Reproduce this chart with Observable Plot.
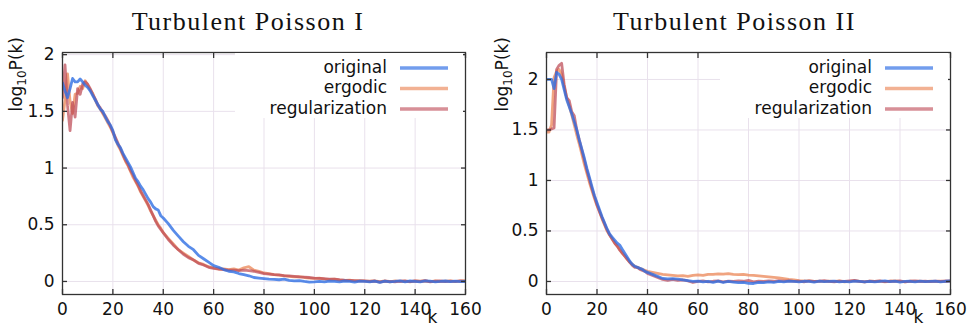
<!DOCTYPE html>
<html><head><meta charset="utf-8">
<script src="https://cdn.jsdelivr.net/npm/d3@7"></script>
<script src="https://cdn.jsdelivr.net/npm/@observablehq/plot@0.6"></script>
<style>
body{margin:0;background:#fff;}
#wrap{position:relative;width:973px;height:325px;overflow:hidden;background:#fff;}
.panel{position:absolute;top:0;height:325px;}
.title{position:absolute;top:9px;left:0;width:100%;box-sizing:border-box;padding-left:10px;text-align:center;font-family:"Liberation Serif",serif;font-size:26px;line-height:25px;letter-spacing:1.5px;color:#111;white-space:nowrap;}
</style></head><body><div id="wrap"></div><script>
const titles = ["Turbulent Poisson I", "Turbulent Poisson II"];
const seriesNames = ["original", "ergodic", "regularization"];
const xTicks = [0, 20, 40, 60, 80, 100, 120, 140, 160];
const yTicks = [0, 0.5, 1, 1.5, 2];
const K = [0,1,2,3,4,5,6,7,8,9,10,11,12,13,14,15,16,17,18,19,20,21,22,23,24,25,26,27,28,29,30,31,32,33,34,35,36,37,38,39,40,
  42,44,46,48,50,52,54,56,58,60,62,64,66,68,70,72,74,76,78,80,82,84,86,88,90,92,94,96,98,100,
  102,104,106,108,110,112,114,116,118,120,122,124,126,128,130,132,134,136,138,140,142,144,146,148,150,152,154,156,158,160];

const leftOriginal = [1.75,1.68,1.62,1.70,1.79,1.76,1.76,1.785,1.76,1.73,1.71,1.68,1.64,1.60,1.56,1.52,1.50,1.45,1.41,1.38,1.33,1.25,1.21,1.18,1.13,1.09,1.05,1.01,0.96,0.91,0.88,0.84,0.81,0.77,0.73,0.70,0.66,0.64,0.63,0.58,0.56,
  0.51,0.45,0.40,0.35,0.31,0.28,0.23,0.20,0.17,0.14,0.125,0.105,0.09,0.085,0.07,0.06,0.05,0.035,0.03,0.025,0.02,0.018,0.015,0.02,0.01,0.005,0.008,0.0,-0.005,-0.003,
  0.0,-0.004,0.002,0.0,-0.003,0.004,0.0,-0.006,0.002,0.0,-0.004,0.003,-0.008,0.002,-0.004,0.0,0.005,-0.003,0.004,0.0,-0.004,0.006,0.002,-0.003,0.0,0.004,-0.002,0.003,-0.002,0.0];
const leftErgodic = [1.42,1.60,1.83,1.59,1.48,1.65,1.66,1.72,1.70,1.77,1.73,1.69,1.66,1.60,1.55,1.52,1.48,1.44,1.40,1.36,1.31,1.26,1.20,1.16,1.11,1.06,1.02,0.97,0.92,0.88,0.84,0.79,0.75,0.71,0.67,0.62,0.58,0.54,0.50,0.47,0.43,
  0.38,0.33,0.28,0.25,0.22,0.19,0.165,0.15,0.13,0.12,0.11,0.11,0.105,0.11,0.10,0.12,0.13,0.10,0.09,0.075,0.07,0.06,0.055,0.05,0.045,0.04,0.042,0.035,0.03,0.028,
  0.03,0.02,0.018,0.02,0.012,0.01,0.012,0.006,0.008,0.004,0.002,0.006,-0.002,0.004,-0.003,0.005,0.0,0.003,-0.004,0.006,0.002,0.004,-0.002,0.005,0.0,0.003,0.006,-0.002,0.004,0.005];
const leftRegularization = [1.62,1.91,1.55,1.33,1.58,1.45,1.70,1.65,1.74,1.76,1.74,1.70,1.65,1.61,1.56,1.53,1.49,1.46,1.42,1.37,1.32,1.27,1.22,1.17,1.12,1.07,1.03,0.98,0.94,0.89,0.85,0.80,0.76,0.72,0.68,0.63,0.58,0.53,0.49,0.46,0.43,
  0.37,0.32,0.28,0.24,0.21,0.19,0.16,0.145,0.125,0.115,0.11,0.105,0.10,0.10,0.095,0.10,0.095,0.09,0.08,0.07,0.065,0.06,0.058,0.052,0.05,0.045,0.04,0.038,0.035,0.03,
  0.028,0.025,0.02,0.02,0.015,0.012,0.01,0.008,0.005,0.006,0.0,0.004,-0.005,0.003,0.0,-0.004,0.002,0.005,-0.002,0.004,0.0,0.007,-0.003,0.002,0.004,-0.002,0.003,0.0,0.005,0.002];

const rightOriginal = [2.00,2.00,2.00,1.91,2.07,2.05,2.00,1.90,1.80,1.73,1.66,1.58,1.50,1.40,1.31,1.22,1.12,1.03,0.94,0.85,0.78,0.71,0.64,0.58,0.52,0.47,0.44,0.41,0.38,0.36,0.32,0.28,0.24,0.20,0.17,0.15,0.14,0.13,0.12,0.10,0.09,
  0.07,0.05,0.03,0.025,0.028,0.024,0.015,0.008,0.0,0.003,-0.005,0.002,-0.008,0.003,-0.01,0.0,-0.006,-0.012,-0.008,-0.018,-0.02,-0.01,-0.012,-0.005,-0.008,0.0,-0.004,0.003,0.0,-0.003,
  0.002,0.0,-0.006,0.004,-0.002,0.0,0.003,-0.004,0.002,-0.003,0.004,0.0,-0.005,0.002,-0.004,0.0,0.005,-0.002,0.003,-0.006,0.0,0.002,-0.003,0.004,-0.002,0.0,0.003,-0.004,0.002,0.005];
const rightErgodic = [1.48,1.48,1.55,2.02,2.08,2.10,2.05,1.93,1.82,1.74,1.65,1.55,1.45,1.36,1.26,1.16,1.07,0.98,0.90,0.82,0.75,0.69,0.62,0.56,0.50,0.46,0.42,0.38,0.35,0.32,0.28,0.25,0.22,0.19,0.17,0.15,0.14,0.13,0.12,0.11,0.10,
  0.09,0.08,0.07,0.065,0.06,0.055,0.058,0.05,0.06,0.065,0.06,0.07,0.07,0.075,0.072,0.078,0.07,0.068,0.07,0.062,0.06,0.055,0.05,0.045,0.04,0.035,0.028,0.02,0.015,0.008,
  0.005,0.006,0.0,0.004,-0.002,0.003,0.0,0.005,-0.003,0.002,0.006,0.0,-0.003,0.004,0.0,0.003,-0.004,0.002,0.005,0.0,-0.003,0.004,0.0,0.003,-0.002,0.004,0.0,0.003,-0.002,0.006];
const rightRegularization = [1.50,1.50,1.51,1.52,2.10,2.14,2.16,1.95,1.82,1.79,1.68,1.64,1.50,1.40,1.30,1.20,1.10,1.01,0.92,0.84,0.76,0.69,0.63,0.57,0.51,0.46,0.42,0.38,0.35,0.31,0.28,0.25,0.22,0.19,0.16,0.14,0.14,0.12,0.11,0.10,0.08,
  0.06,0.04,0.02,0.01,0.02,0.01,0.015,0.005,-0.01,0.0,0.005,-0.004,0.002,0.006,-0.003,0.004,0.0,0.006,0.002,0.01,-0.004,0.003,0.0,0.006,0.002,0.008,0.003,0.005,0.0,0.004,
  -0.003,0.006,0.0,0.003,0.008,0.0,-0.004,0.003,0.0,0.005,0.01,0.002,-0.003,0.004,0.0,0.006,-0.002,0.003,0.0,0.005,-0.004,0.002,0.006,0.0,0.003,-0.002,0.004,0.0,0.005,0.004];

const colors = {original: "#2f6fe4", ergodic: "#ec8a5c", regularization: "#bd4a55"};
const opac = {original: 0.8, ergodic: 0.78, regularization: 0.72};

const panels = [
  {left: 0, width: 486, ml: 62, mr: 21, yDomain: [-0.115, 2.019],
   series: {original: leftOriginal, ergodic: leftErgodic, regularization: leftRegularization}},
  {left: 486, width: 487, ml: 60, mr: 23, yDomain: [-0.129, 2.267],
   series: {original: rightOriginal, ergodic: rightErgodic, regularization: rightRegularization}}
];

const wrap = document.getElementById("wrap");
const MT = 52, MB = 31, H = 325;
const FS = 17;
const axisCol = "#333333";
const gridCol = "#e9e1ec";

panels.forEach((p, pi) => {
  const div = document.createElement("div");
  div.className = "panel";
  div.style.left = p.left + "px";
  div.style.width = p.width + "px";
  const lines = ["ergodic", "regularization", "original"].map(name =>
    Plot.line(K.map((k, i) => ({k, v: p.series[name][i]})), {
      x: "k", y: "v", stroke: colors[name], strokeOpacity: opac[name],
      strokeWidth: 2.8, strokeLinejoin: "round", clip: true
    }));
  const chart = Plot.plot({
    width: p.width, height: H,
    marginLeft: p.ml, marginRight: p.mr, marginTop: MT, marginBottom: MB,
    x: {domain: [0, 160], label: null},
    y: {domain: p.yDomain, label: null},
    style: {fontFamily: "DejaVu Sans, sans-serif", fontSize: FS + "px", color: "#111", background: "#fff"},
    marks: [
      Plot.gridX(xTicks, {stroke: gridCol, strokeOpacity: 1, strokeWidth: 1}),
      Plot.gridY(yTicks, {stroke: gridCol, strokeOpacity: 1, strokeWidth: 1}),
      ...lines,
      Plot.frame({stroke: axisCol, strokeWidth: 1.3}),
      Plot.axisX(xTicks, {anchor: "bottom", tickSize: 5, dy: -5, tickFormat: () => "", stroke: axisCol, strokeWidth: 1.3, label: null}),
      Plot.axisX(xTicks, {anchor: "top", tickSize: 5, dy: 5, tickFormat: () => "", stroke: axisCol, strokeWidth: 1.3, label: null}),
      Plot.axisY(yTicks, {anchor: "left", tickSize: 5, dx: 5, tickFormat: () => "", stroke: axisCol, strokeWidth: 1.3, label: null}),
      Plot.axisY(yTicks, {anchor: "right", tickSize: 5, dx: -5, tickFormat: () => "", stroke: axisCol, strokeWidth: 1.3, label: null}),
      Plot.axisX(xTicks, {anchor: "bottom", tickSize: 0, tickPadding: 8, tickFormat: d => String(d), fill: "#111", label: null}),
      Plot.axisY(yTicks, {anchor: "left", tickSize: 0, tickPadding: 8, tickFormat: d => String(d), fill: "#111", label: null})
    ]
  });
  div.appendChild(chart);
  const title = document.createElement("div");
  title.className = "title";
  title.textContent = titles[pi];
  div.appendChild(title);
  wrap.appendChild(div);

  const svg = d3.select(chart);
  const fr = p.width - p.mr;
  // y-axis label
  const yl = svg.append("text")
    .attr("transform", `translate(22,37) rotate(-90)`)
    .attr("text-anchor", "end")
    .attr("font-family", "DejaVu Sans, sans-serif").attr("font-size", FS).attr("fill", "#111");
  yl.append("tspan").text("log");
  yl.append("tspan").attr("font-size", 12).attr("dy", 4).text("10");
  yl.append("tspan").attr("dy", -4).text("P(k)");
  // x-axis label
  svg.append("text").attr("x", 432.5).attr("y", 323).attr("text-anchor", "middle")
    .attr("font-family", "DejaVu Sans, sans-serif").attr("font-size", FS).attr("fill", "#111").text("k");
  // legend
  const lg = svg.append("g");
  lg.append("rect").attr("x", fr - 230).attr("y", MT + 1).attr("width", 228).attr("height", 118 - MT - 1).attr("fill", "#fff");
  seriesNames.forEach((name, i) => {
    const cy = 68 + i * 20.5;
    lg.append("text").attr("x", fr - 78).attr("y", cy + 4.8).attr("text-anchor", "end")
      .attr("font-family", "DejaVu Sans, sans-serif").attr("font-size", FS).attr("fill", "#111").text(name);
    lg.append("line").attr("x1", fr - 65).attr("x2", fr - 17).attr("y1", cy).attr("y2", cy)
      .attr("stroke", colors[name]).attr("stroke-opacity", opac[name] * 0.85).attr("stroke-width", 3.3);
  });
});
</script></body></html>
